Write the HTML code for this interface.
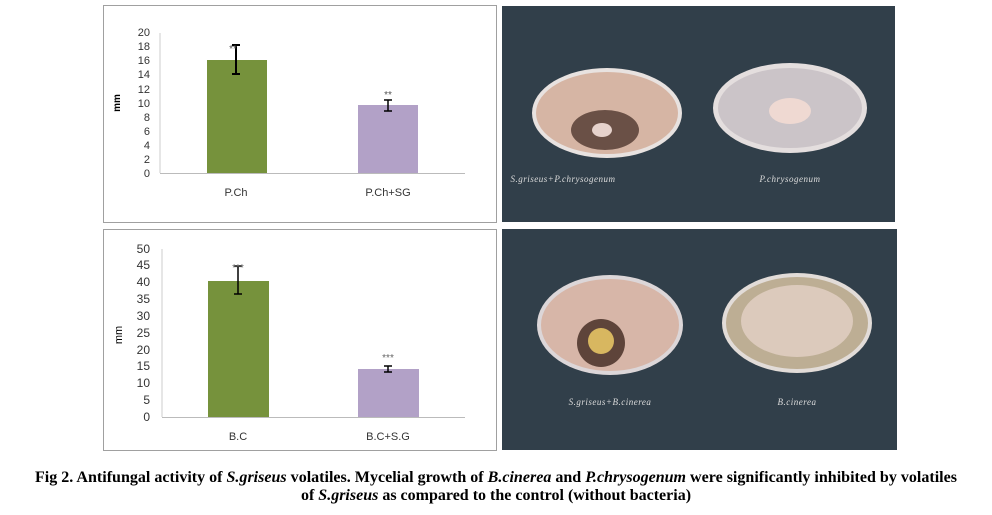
<!DOCTYPE html>
<html><head><style>body{margin:0;background:#fff}svg{display:block}</style></head><body>
<svg width="992" height="515" xmlns="http://www.w3.org/2000/svg" font-family="Liberation Sans, sans-serif">
<rect x="0" y="0" width="992" height="515" fill="#fff"/>
<!-- top chart -->
<rect x="103.5" y="5.5" width="393" height="217" fill="#fff" stroke="#a0a0a0"/>
<g font-size="11" fill="#333" text-anchor="end">
<text x="150" y="177">0</text><text x="150" y="163">2</text><text x="150" y="149">4</text><text x="150" y="135">6</text><text x="150" y="121">8</text><text x="150" y="107">10</text><text x="150" y="93">12</text><text x="150" y="78">14</text><text x="150" y="64">16</text><text x="150" y="50">18</text><text x="150" y="36">20</text>
</g>
<line x1="160" y1="33" x2="160" y2="173" stroke="#ccc"/>
<line x1="160" y1="173.5" x2="465" y2="173.5" stroke="#bbb"/>
<text x="120" y="103" font-size="10" font-weight="bold" transform="rotate(-90 120 103)" text-anchor="middle">mm</text>
<rect x="207" y="60" width="60" height="113" fill="#76923c"/>
<rect x="358" y="105" width="60" height="68" fill="#b2a1c7"/>
<g stroke="#000" stroke-width="2"><line x1="236" y1="45" x2="236" y2="74"/><line x1="232" y1="45" x2="240" y2="45"/><line x1="232" y1="74" x2="240" y2="74"/></g>
<g stroke="#000" stroke-width="1.5"><line x1="388" y1="100" x2="388" y2="111"/><line x1="384" y1="100" x2="392" y2="100"/><line x1="384" y1="111" x2="392" y2="111"/></g>
<text x="233" y="52" font-size="10" fill="#555" text-anchor="middle">**</text>
<text x="388" y="98" font-size="10" fill="#555" text-anchor="middle">**</text>
<text x="236" y="196" font-size="11" fill="#333" text-anchor="middle">P.Ch</text>
<text x="388" y="196" font-size="11" fill="#333" text-anchor="middle">P.Ch+SG</text>
<!-- bottom chart -->
<rect x="103.5" y="229.5" width="393" height="221" fill="#fff" stroke="#a0a0a0"/>
<g font-size="12" fill="#333" text-anchor="end">
<text x="150" y="421">0</text><text x="150" y="404">5</text><text x="150" y="387">10</text><text x="150" y="370">15</text><text x="150" y="354">20</text><text x="150" y="337">25</text><text x="150" y="320">30</text><text x="150" y="303">35</text><text x="150" y="286">40</text><text x="150" y="269">45</text><text x="150" y="253">50</text>
</g>
<line x1="162" y1="249" x2="162" y2="417" stroke="#ccc"/>
<line x1="162" y1="417.5" x2="465" y2="417.5" stroke="#bbb"/>
<text x="122" y="335" font-size="11" transform="rotate(-90 122 335)" text-anchor="middle">mm</text>
<rect x="208" y="281" width="61" height="136" fill="#76923c"/>
<rect x="358" y="369" width="61" height="48" fill="#b2a1c7"/>
<g stroke="#000" stroke-width="1.5"><line x1="238" y1="266" x2="238" y2="294"/><line x1="234" y1="266" x2="242" y2="266"/><line x1="234" y1="294" x2="242" y2="294"/></g>
<g stroke="#000" stroke-width="1.5"><line x1="388" y1="366" x2="388" y2="372"/><line x1="384" y1="366" x2="392" y2="366"/><line x1="384" y1="372" x2="392" y2="372"/></g>
<text x="238" y="271" font-size="10" fill="#666" text-anchor="middle">***</text>
<text x="388" y="361" font-size="10" fill="#666" text-anchor="middle">***</text>
<text x="238" y="440" font-size="11" fill="#333" text-anchor="middle">B.C</text>
<text x="388" y="440" font-size="11" fill="#333" text-anchor="middle">B.C+S.G</text>
<!-- top photo -->
<rect x="502" y="6" width="393" height="216" fill="#313f4a"/>
<ellipse cx="607" cy="113" rx="75" ry="45" fill="#e8e2e0"/>
<ellipse cx="607" cy="113" rx="71" ry="41" fill="#d6b5a4"/>
<ellipse cx="605" cy="130" rx="34" ry="20" fill="#6a5046"/>
<ellipse cx="602" cy="130" rx="10" ry="7" fill="#e6d2cc"/>
<ellipse cx="790" cy="108" rx="77" ry="45" fill="#e4dede"/>
<ellipse cx="790" cy="108" rx="72" ry="40" fill="#cbc4c8"/>
<ellipse cx="790" cy="111" rx="21" ry="13" fill="#efd9d2"/>
<text x="563" y="182" font-size="9" font-style="italic" fill="#ddd" font-family="Liberation Serif, serif" text-anchor="middle" letter-spacing="0.5">S.griseus+P.chrysogenum</text>
<text x="790" y="182" font-size="9" font-style="italic" fill="#ddd" font-family="Liberation Serif, serif" text-anchor="middle" letter-spacing="0.5">P.chrysogenum</text>
<!-- bottom photo -->
<rect x="502" y="229" width="395" height="221" fill="#313f4a"/>
<ellipse cx="610" cy="325" rx="73" ry="50" fill="#dcd6d8"/>
<ellipse cx="610" cy="325" rx="69" ry="46" fill="#d7b6a8"/>
<ellipse cx="601" cy="343" rx="24" ry="24" fill="#5e443a"/>
<ellipse cx="601" cy="341" rx="13" ry="13" fill="#d8b760"/>
<ellipse cx="797" cy="323" rx="75" ry="50" fill="#e2dcd8"/>
<ellipse cx="797" cy="323" rx="71" ry="46" fill="#bdae94"/>
<ellipse cx="797" cy="321" rx="56" ry="36" fill="#dccabc"/>
<text x="610" y="405" font-size="9" font-style="italic" fill="#ddd" font-family="Liberation Serif, serif" text-anchor="middle" letter-spacing="0.5">S.griseus+B.cinerea</text>
<text x="797" y="405" font-size="9" font-style="italic" fill="#ddd" font-family="Liberation Serif, serif" text-anchor="middle" letter-spacing="0.5">B.cinerea</text>
<!-- caption -->
<g font-family="Liberation Serif, serif" font-size="16" font-weight="bold" fill="#000">
<text x="35" y="482" textLength="922" lengthAdjust="spacingAndGlyphs">Fig 2. Antifungal activity of <tspan font-style="italic">S.griseus</tspan> volatiles. Mycelial growth of <tspan font-style="italic">B.cinerea</tspan> and <tspan font-style="italic">P.chrysogenum</tspan> were significantly inhibited by volatiles</text>
<text x="496" y="500" text-anchor="middle">of <tspan font-style="italic">S.griseus</tspan> as compared to the control (without bacteria)</text>
</g>
</svg>
</body></html>
